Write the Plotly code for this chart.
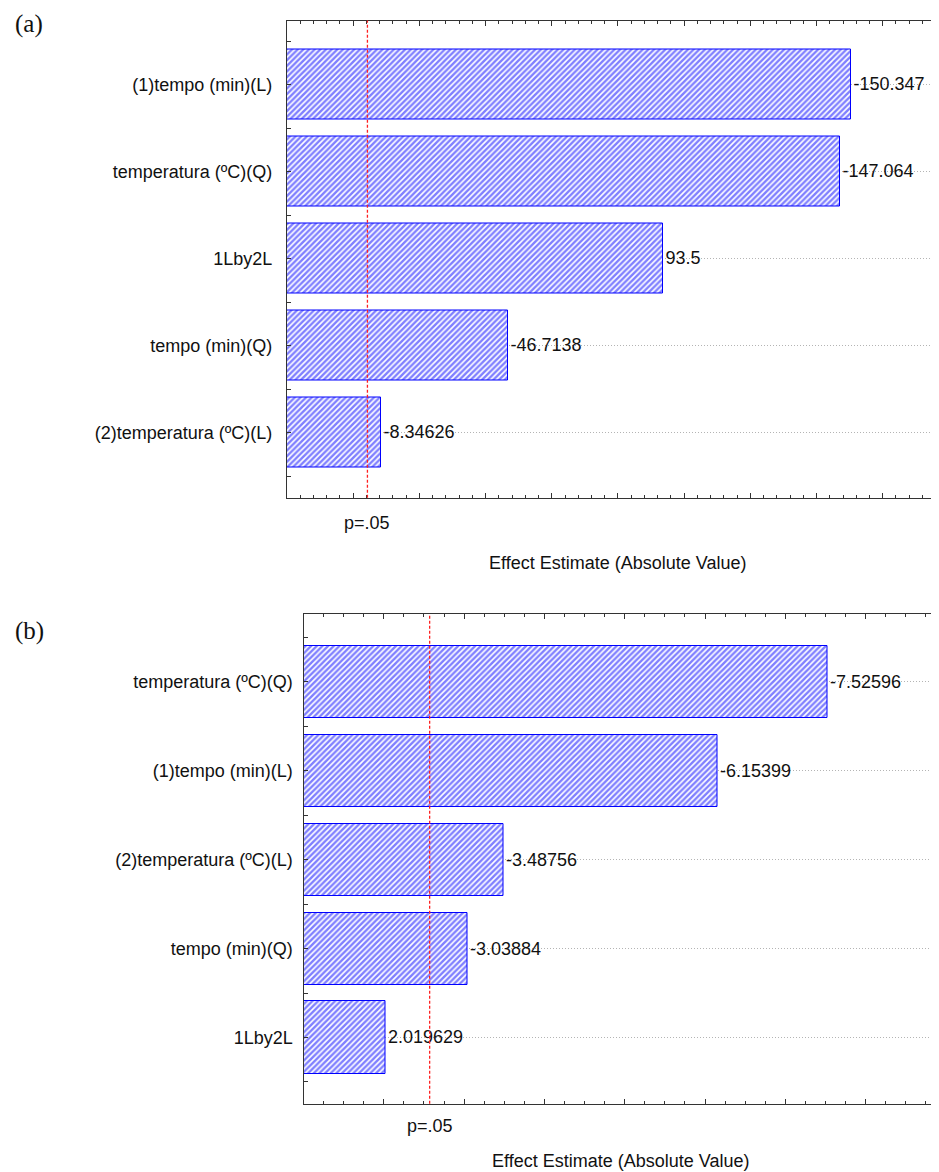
import plotly.graph_objects as go

W, H = 939, 1172
OFF = 8  # page body margin
FW, FH = W - OFF, H - OFF

# ---- data panel (a) ----
labels_a = ["(1)tempo (min)(L)", "temperatura (ºC)(Q)", "1Lby2L",
            "tempo (min)(Q)", "(2)temperatura (ºC)(L)"]
effects_a = [-150.347, -147.064, 93.5, -46.7138, -8.34626]
pcrit_a = 4.303
xrange_a = [-20, 177]

# ---- data panel (b) ----
labels_b = ["temperatura (ºC)(Q)", "(1)tempo (min)(L)", "(2)temperatura (ºC)(L)",
            "tempo (min)(Q)", "1Lby2L"]
effects_b = [-7.52596, -6.15399, -3.48756, -3.03884, 2.019629]
pcrit_b = 2.571
xrange_b = [1, 8.914]

FONT = "Liberation Sans, Arial, sans-serif"
TXT = "#111111"
BLUE = "#0000ff"


def px_x(p):
    return (p - OFF) / FW


def px_y(p):
    return 1 - (p - OFF) / FH


fig = go.Figure()


def add_panel(labels, effects, xr, xa, ya, bw):
    pos = list(range(len(labels)))
    fig.add_trace(go.Bar(
        y=pos, x=[abs(v) - xr[0] for v in effects], base=xr[0],
        orientation="h", width=bw,
        marker=dict(color="white", line=dict(color=BLUE, width=1),
                    pattern=dict(shape="/", fgcolor=BLUE, bgcolor="white",
                                 size=4, solidity=0.6)),
        text=[str(v) for v in effects], textposition="outside",
        outsidetextfont=dict(family=FONT, size=18, color=TXT),
        cliponaxis=False, showlegend=False, hoverinfo="skip",
        xaxis=xa, yaxis=ya))


add_panel(labels_a, effects_a, xrange_a, "x", "y", 0.805)
add_panel(labels_b, effects_b, xrange_b, "x2", "y2", 0.81)

xcommon = dict(showline=True, linecolor="#333", linewidth=1.3, mirror="ticks",
               ticks="inside", ticklen=5, tickcolor="#333", showticklabels=False,
               showgrid=False, zeroline=False)
ycommon = dict(showline=True, linecolor="#333", linewidth=1.3, mirror=False,
               ticks="inside", ticklen=4, tickcolor="#333",
               tickfont=dict(family=FONT, size=18, color=TXT),
               showgrid=True, gridcolor="#b4b4b4", griddash="1px,2px", gridwidth=1,
               zeroline=False, tickmode="array")

fig.update_layout(
    width=FW, height=FH, margin=dict(l=0, r=0, t=0, b=0),
    plot_bgcolor="white", paper_bgcolor="white", bargap=0,
    xaxis=dict(domain=[px_x(287), 1], range=xrange_a, tick0=0, dtick=20,
               minor=dict(dtick=4, ticks="inside", ticklen=3, tickcolor="#333"),
               anchor="y", **xcommon),
    yaxis=dict(domain=[px_y(497.7), px_y(20.5)], range=[4.744, -0.741],
               tickvals=list(range(len(labels_a))), ticktext=labels_a,
               minor=dict(tickvals=[i + 0.5 for i in range(-1, len(labels_a))],
                          ticks="inside", ticklen=4, tickcolor="#333"),
               ticklabelstandoff=10, anchor="x", **ycommon),
    xaxis2=dict(domain=[px_x(303.5), 1], range=xrange_b, tick0=0, dtick=1,
                minor=dict(dtick=0.25, ticks="inside", ticklen=3, tickcolor="#333"),
                anchor="y2", **xcommon),
    yaxis2=dict(domain=[px_y(1103.7), px_y(614)], range=[4.744, -0.761],
                tickvals=list(range(len(labels_b))), ticktext=labels_b,
                minor=dict(tickvals=[i + 0.5 for i in range(-1, len(labels_b))],
                           ticks="inside", ticklen=4, tickcolor="#333"),
                ticklabelstandoff=6, anchor="x2", **ycommon),
)

# p = .05 reference lines
for xref, yref, pc in [("x", "y domain", pcrit_a), ("x2", "y2 domain", pcrit_b)]:
    fig.add_shape(type="line", xref=xref, yref=yref, x0=pc, x1=pc, y0=0, y1=1,
                  line=dict(color="#ff2020", width=1.3, dash="3px,2px"), layer="above")

ann = []
ann.append(dict(x=pcrit_a, xref="x", y=px_y(523), yref="paper", text="p=.05"))
ann.append(dict(x=pcrit_b, xref="x2", y=px_y(1126), yref="paper", text="p=.05"))
ann.append(dict(x=px_x(617), xref="paper", y=px_y(563), yref="paper",
                text="Effect Estimate (Absolute Value)"))
ann.append(dict(x=px_x(620), xref="paper", y=px_y(1161), yref="paper",
                text="Effect Estimate (Absolute Value)"))
for a in ann:
    a.update(showarrow=False, xanchor="center", yanchor="middle",
             font=dict(family=FONT, size=18, color=TXT))
    fig.add_annotation(**a)

for t, yy, anc in [("(a)", 8, "top"), ("(b)", 631, "middle")]:
    fig.add_annotation(x=px_x(29), xref="paper", y=px_y(yy), yref="paper", text=t,
                       showarrow=False, xanchor="center", yanchor=anc,
                       font=dict(family="Liberation Serif, Times New Roman, serif",
                                 size=25, color=TXT))

fig.write_html("out.html")
